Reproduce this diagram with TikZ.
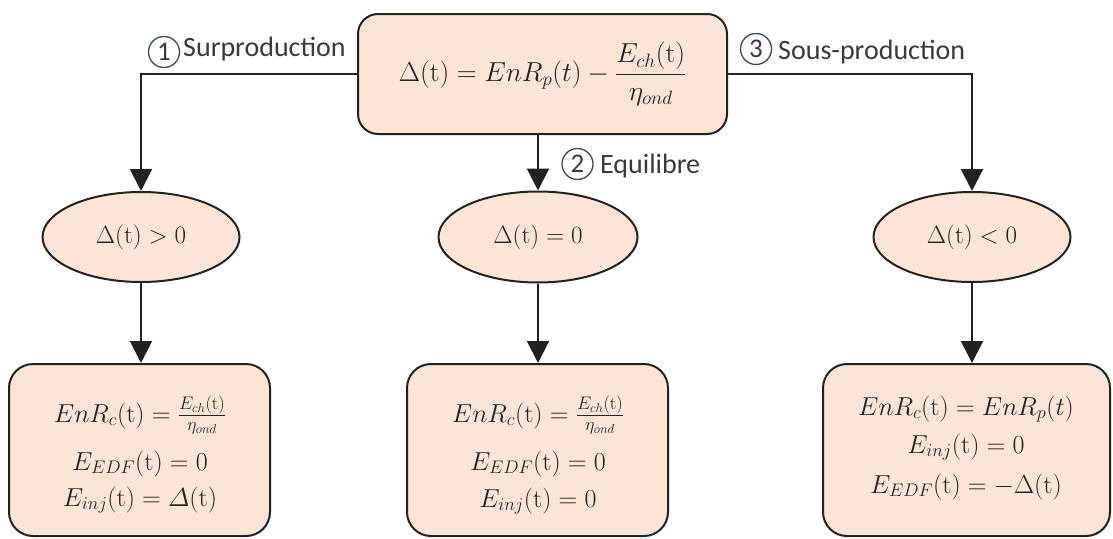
\RequirePackage{fix-cm}
\documentclass[tikz,border=0pt]{standalone}
\usepackage{amsmath}
\usepackage{fontspec}
\setsansfont{Carlito}
\usetikzlibrary{shapes.geometric,arrows.meta}
\definecolor{peach}{HTML}{FCE4D6}
\definecolor{edgec}{HTML}{222222}
\definecolor{labc}{HTML}{3A3A3A}
\definecolor{numc}{HTML}{3B4A5A}
\begin{document}
\begin{tikzpicture}[x=1pt,y=-1pt,
  box/.style={rectangle,draw=edgec,fill=peach,line width=2pt,rounded corners=20pt,inner sep=0pt},
  oval/.style={ellipse,draw=edgec,fill=peach,line width=2pt,inner sep=0pt,font=\fontsize{25}{28}\selectfont,text=edgec},
  conn/.style={draw=edgec,line width=2pt},
  arr/.style={conn,-{Triangle[length=22pt,width=22pt]}},
  mtext/.style={font=\fontsize{26}{30}\selectfont,inner sep=0pt,anchor=base,text=edgec},
  lab/.style={font=\sffamily\fontsize{28}{32}\selectfont,text=labc,inner sep=0pt,anchor=base west},
  num/.style={circle,draw=numc,line width=1.3pt,minimum size=31pt,inner sep=0pt,font=\sffamily\fontsize{27}{30}\selectfont,text=labc}
]
\useasboundingbox (0,0) rectangle (1113,538);

% top box
\node[box,minimum width=369pt,minimum height=120pt,font=\fontsize{27.5}{32}\selectfont,text=edgec] (top) at (542.5,74)
  {$\displaystyle \Delta(\mathrm{t}) = EnR_p(t) - \frac{E_{ch}(\mathrm{t})}{\eta_{ond}}$};

% ellipses
\node[oval,minimum width=197pt,minimum height=90pt] (e1) at (141,237) {$\Delta(\mathrm{t}) > 0$};
\node[oval,minimum width=199pt,minimum height=91pt] (e2) at (538,237) {$\Delta(\mathrm{t}) = 0$};
\node[oval,minimum width=197pt,minimum height=90pt] (e3) at (972,237) {$\Delta(\mathrm{t}) < 0$};

% bottom boxes
\node[box,rounded corners=24pt,minimum width=261pt,minimum height=172pt] (b1) at (139.5,450) {};
\node[box,rounded corners=24pt,minimum width=261pt,minimum height=172pt] (b2) at (537.5,450) {};
\node[box,rounded corners=24pt,minimum width=287pt,minimum height=172pt] (b3) at (966.5,450) {};

% texts in bottom boxes
\node[mtext] (b1a) at (140,422) {$EnR_c(\mathrm{t}) = \frac{E_{ch}(\mathrm{t})}{\eta_{ond}}$};
\node[mtext] (b1b) at (140,470) {$E_{EDF}(\mathrm{t}) = 0$};
\node[mtext] (b1c) at (140,506) {$E_{inj}(\mathrm{t}) = \varDelta(\mathrm{t})$};

\node[mtext] (b2a) at (538,422) {$EnR_c(\mathrm{t}) = \frac{E_{ch}(\mathrm{t})}{\eta_{ond}}$};
\node[mtext] (b2b) at (538,470) {$E_{EDF}(\mathrm{t}) = 0$};
\node[mtext] (b2c) at (538,507) {$E_{inj}(\mathrm{t}) = 0$};

\node[mtext] (b3a) at (966,415) {$EnR_c(\mathrm{t}) = EnR_p(t)$};
\node[mtext] (b3b) at (966,453) {$E_{inj}(\mathrm{t}) = 0$};
\node[mtext] (b3c) at (966,493) {$E_{EDF}(\mathrm{t}) = -\Delta(\mathrm{t})$};

% connectors
\draw[arr] (top.west) -| (e1.north);
\draw[arr] (top.east) -| (e3.north);
\draw[arr] (e2.north |- top.south) -- (e2.north);
\draw[arr] (e1.south) -- (e1.south |- b1.north);
\draw[arr] (e2.south) -- (e2.south |- b2.north);
\draw[arr] (e3.south) -- (e3.south |- b3.north);

% labels
\node[num] (n1) at (164,52) {1};
\node[lab] (l1) at (183,56) {Surproduction};
\node[num] (n3) at (756,49) {3};
\node[lab] (l3) at (778,59) {Sous-production};
\node[num] (n2) at (577.5,164) {2};
\node[lab] (l2) at (600,173) {Equilibre};
\end{tikzpicture}
\end{document}
